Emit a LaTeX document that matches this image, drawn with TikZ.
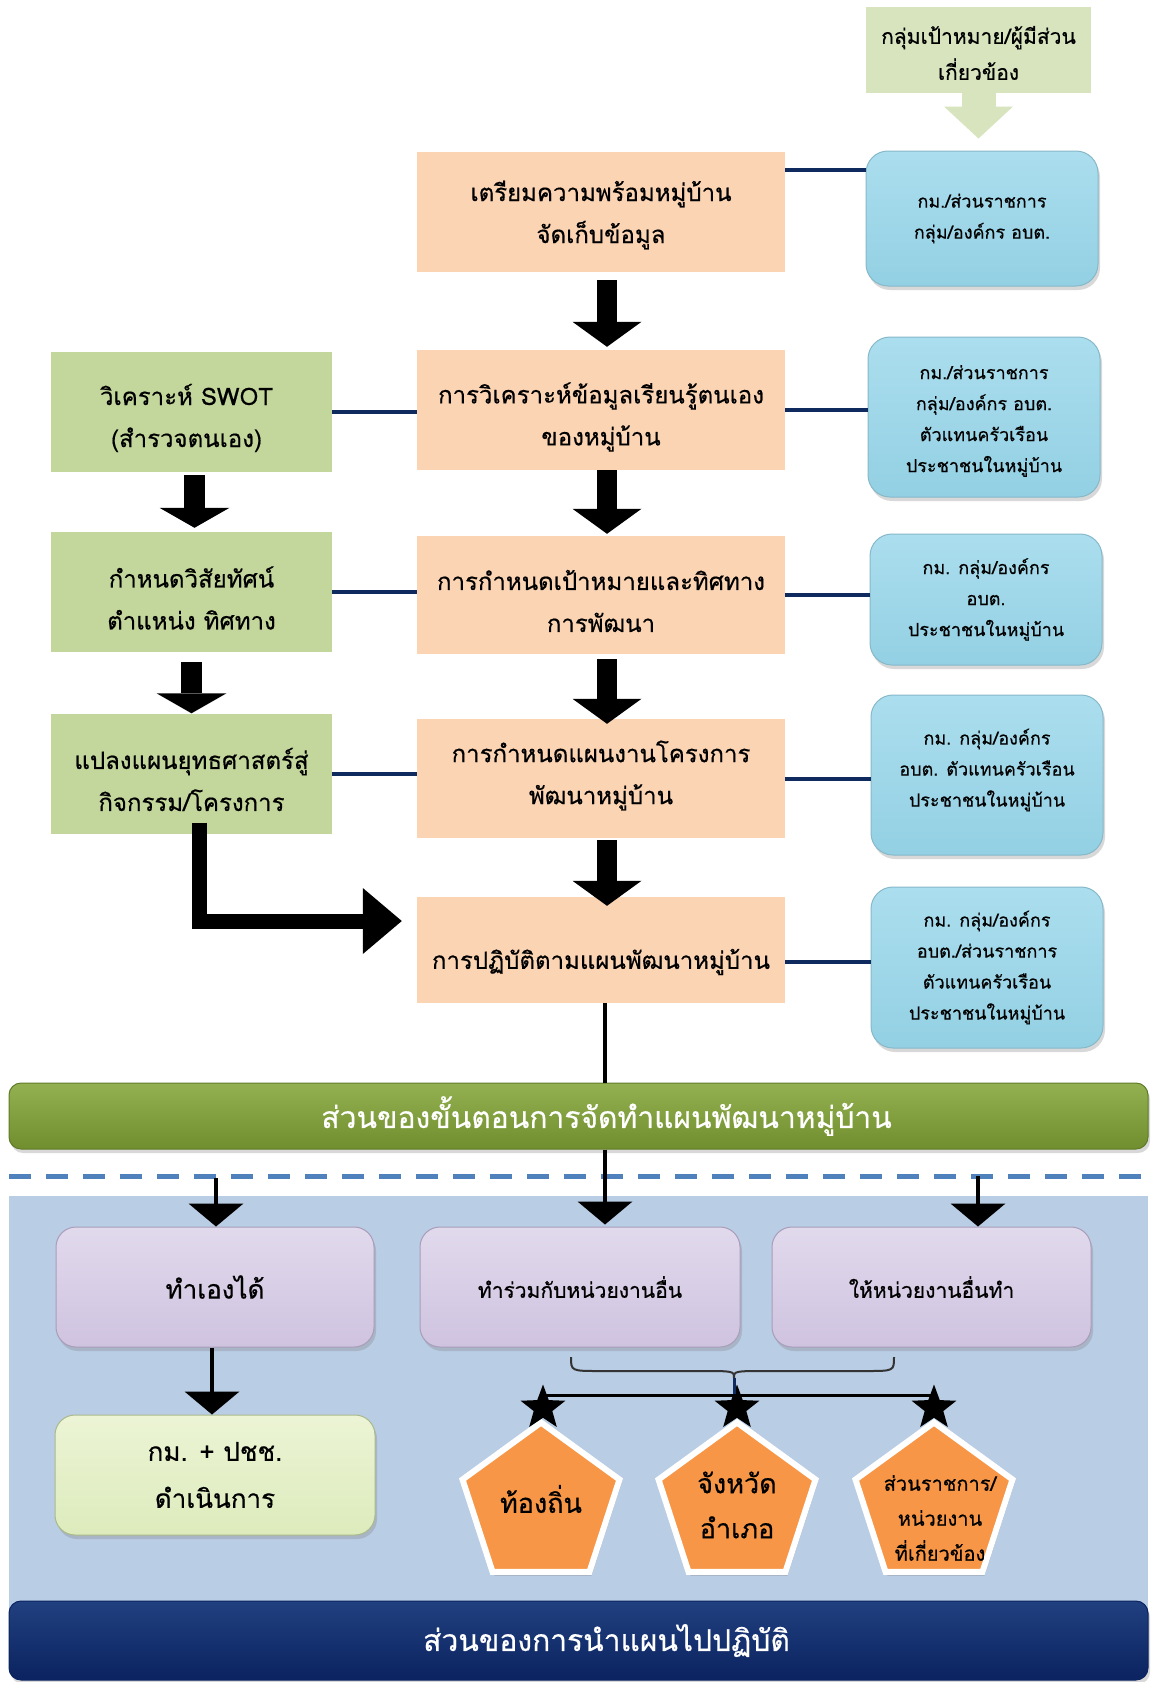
\documentclass[tikz,border=0pt]{standalone}
\usepackage{fontspec}
\setmainfont[Script=Thai, FakeBold=0.5]{Loma}
\usetikzlibrary{arrows.meta,shapes.geometric,shadows,calc}
\definecolor{orangeC}{HTML}{FBD4B4}
\definecolor{greenC}{HTML}{C3D69B}
\definecolor{topgreenC}{HTML}{D7E4BD}
\definecolor{blueTop}{HTML}{ABDEEE}
\definecolor{blueBot}{HTML}{93D0E3}
\definecolor{blueEdge}{HTML}{86B9C9}
\definecolor{navyC}{HTML}{0E2A5E}
\definecolor{bannerTop}{HTML}{93B150}
\definecolor{bannerBot}{HTML}{718E2E}
\definecolor{bannerEdge}{HTML}{5F7A28}
\definecolor{navyTop}{HTML}{21407F}
\definecolor{navyBot}{HTML}{0B2360}
\definecolor{bgblue}{HTML}{B9CDE5}
\definecolor{dashC}{HTML}{4F81BD}
\definecolor{purpTop}{HTML}{E1D9EC}
\definecolor{purpBot}{HTML}{CFC3E0}
\definecolor{purpEdge}{HTML}{A99DBA}
\definecolor{lgTop}{HTML}{ECF4D5}
\definecolor{lgBot}{HTML}{DDEBBC}
\definecolor{lgEdge}{HTML}{AAB98A}
\definecolor{pentC}{HTML}{F79646}
\tikzset{
  txt/.style={inner sep=0pt, align=center},
  otxt/.style={txt, font=\fontsize{24}{42}\selectfont},
  btxt/.style={txt, font=\fontsize{18}{31}\selectfont},
  obox/.style={fill=orangeC, minimum width=368pt, inner sep=0pt},
  gbox/.style={fill=greenC, minimum width=281pt, minimum height=120pt, inner sep=0pt},
  bbox/.style={rounded corners=22pt, top color=blueTop, bottom color=blueBot, draw=blueEdge,
    line width=1pt, minimum width=232pt, inner sep=0pt,
    drop shadow={shadow xshift=2pt, shadow yshift=-4pt, opacity=0.3}},
  tgbox/.style={fill=topgreenC, minimum width=225pt, minimum height=86pt, inner sep=0pt},
  pbox/.style={rounded corners=20pt, top color=purpTop, bottom color=purpBot, draw=purpEdge,
    line width=1pt, minimum width=318pt, minimum height=120pt, inner sep=0pt, align=center,
    drop shadow={shadow xshift=2pt, shadow yshift=-4pt, opacity=0.3}},
  lgbox/.style={rounded corners=20pt, top color=lgTop, bottom color=lgBot, draw=lgEdge,
    line width=1pt, minimum width=320pt, minimum height=120pt, inner sep=0pt,
    drop shadow={shadow xshift=2pt, shadow yshift=-4pt, opacity=0.3}},
  banner/.style={rounded corners=12pt, minimum width=1139pt, inner sep=0pt,
    drop shadow={shadow xshift=2pt, shadow yshift=-4pt, opacity=0.3}},
  bantxt/.style={txt, text=white, font=\fontsize{30}{34}\selectfont},
  pent/.style={regular polygon, regular polygon sides=5, minimum size=165pt, inner sep=0pt,
    fill=pentC, draw=white, line width=6pt,
    drop shadow={shadow xshift=2pt, shadow yshift=-4pt, opacity=0.3}},
  starnode/.style={star, star points=5, star point ratio=2.4, minimum size=47pt,
    inner sep=0pt, fill=black},
  navyline/.style={draw=navyC, line width=4pt},
  fatarrow/.style={draw=black, line width=20pt,
    -{Triangle[width=69pt,length=25pt,line width=0pt]}},
  greenarrow/.style={draw=black, line width=21pt,
    -{Triangle[width=70pt,length=20pt,line width=0pt]}},
  thinarrow/.style={draw=black, line width=4pt,
    -{Triangle[width=55pt,length=23pt,line width=0pt]}},
}
\begin{document}
\begin{tikzpicture}[x=1pt,y=-1pt]
\useasboundingbox (0,0) rectangle (1151,1682);
\fill[white] (0,0) rectangle (1151,1682);
% lower background
\fill[bgblue] (9,1196) rectangle (1148,1640);
\coordinate (dl) at (9,1176);
\coordinate (dr) at (1148,1176);
\draw[dashC, line width=5pt, dash pattern=on 22pt off 15pt] (dl) -- (dr);

% top target box
\node[tgbox] (tg) at (978.5,50) {};
\node[txt, font=\fontsize{21}{36}\selectfont] (tgt) at ([yshift=-3pt]tg.center) {กลุ่มเป้าหมาย/ผู้มีส่วน\\เกี่ยวข้อง};

% orange column
\node[obox, minimum height=120pt] (o1) at (601,212) {};
\node[obox, minimum height=120pt] (o2) at (601,410) {};
\node[obox, minimum height=118pt] (o3) at (601,595) {};
\node[obox, minimum height=119pt] (o4) at (601,778.5) {};
\node[obox, minimum height=106pt] (o5) at (601,950) {};
\node[otxt] (o1t) at ([yshift=-3pt]o1.center) {เตรียมความพร้อมหมู่บ้าน\\จัดเก็บข้อมูล};
\node[otxt] (o2t) at ([yshift=-7pt]o2.center) {การวิเคราะห์ข้อมูลเรียนรู้ตนเอง\\ของหมู่บ้าน};
\node[otxt] (o3t) at ([yshift=-6pt]o3.center) {การกำหนดเป้าหมายและทิศทาง\\การพัฒนา};
\node[otxt] (o4t) at ([yshift=3pt]o4.center) {การกำหนดแผนงานโครงการ\\พัฒนาหมู่บ้าน};
\node[otxt] (o5t) at ([yshift=-12pt]o5.center) {การปฏิบัติตามแผนพัฒนาหมู่บ้าน};

% green column
\node[gbox] (g1) at (191.5,412) {};
\node[gbox] (g2) at (191.5,592) {};
\node[gbox] (g3) at (191.5,773.5) {};
\node[otxt] (g1t) at ([xshift=-5pt,yshift=-6pt]g1.center) {วิเคราะห์ SWOT\\(สำรวจตนเอง)};
\node[otxt] (g2t) at ([yshift=-6pt]g2.center) {กำหนดวิสัยทัศน์\\ตำแหน่ง ทิศทาง};
\node[otxt] (g3t) at ([yshift=-6pt]g3.center) {แปลงแผนยุทธศาสตร์สู่\\กิจกรรม/โครงการ};

% blue column
\node[bbox, minimum height=135pt] (b1) at (982,218.5) {};
\node[bbox, minimum height=160pt] (b2) at (984,417) {};
\node[bbox, minimum height=131pt] (b3) at (986,599.5) {};
\node[bbox, minimum height=160pt] (b4) at (987,775) {};
\node[bbox, minimum height=161pt] (b5) at (987,967.5) {};
\node[btxt] (b1t) at (b1.center) {กม./ส่วนราชการ\\กลุ่ม/องค์กร อบต.};
\node[btxt] (b2t) at ([yshift=-4pt]b2.center) {กม./ส่วนราชการ\\กลุ่ม/องค์กร อบต.\\ตัวแทนครัวเรือน\\ประชาชนในหมู่บ้าน};
\node[btxt] (b3t) at (b3.center) {กม. กลุ่ม/องค์กร\\อบต.\\ประชาชนในหมู่บ้าน};
\node[btxt] (b4t) at ([yshift=5pt]b4.center) {กม. กลุ่ม/องค์กร\\อบต. ตัวแทนครัวเรือน\\ประชาชนในหมู่บ้าน};
\node[btxt] (b5t) at (b5.center) {กม. กลุ่ม/องค์กร\\อบต./ส่วนราชการ\\ตัวแทนครัวเรือน\\ประชาชนในหมู่บ้าน};

% connectors left
\draw[navyline] (g1.east) -- (g1.east -| o2.west);
\draw[navyline] (g2.east) -- (g2.east -| o3.west);
\draw[navyline] (g3.east) -- (g3.east -| o4.west);
% connectors right
\draw[navyline] ([yshift=42pt]o1.east) -- ([yshift=42pt]o1.east -| b1.west);
\draw[navyline] (o2.east) -- (o2.east -| b2.west);
\draw[navyline] (o3.east) -- (o3.east -| b3.west);
\draw[navyline] (o4.east) -- (o4.east -| b4.west);
\draw[navyline] ([yshift=-12pt]o5.east) -- ([yshift=-12pt]o5.east -| b5.west);

% top green arrow
\draw[draw=topgreenC, line width=34pt, -{Triangle[width=69pt,length=32pt,line width=0pt]}]
  (tg.south) -- ([yshift=12pt]tg.south |- b1.north);

% fat arrows
\draw[fatarrow] ([xshift=6pt,yshift=-8pt]o1.south) -- ([xshift=6pt,yshift=3pt]o1.south |- o2.north);
\draw[fatarrow] ([xshift=6pt]o2.south) -- ([xshift=6pt,yshift=2pt]o2.south |- o3.north);
\draw[fatarrow] ([xshift=6pt,yshift=-5pt]o3.south) -- ([xshift=6pt,yshift=-5pt]o3.south |- o4.north);
\draw[fatarrow] ([xshift=6pt,yshift=-2pt]o4.south) -- ([xshift=6pt,yshift=-9pt]o4.south |- o5.north);

\draw[greenarrow] ([xshift=3pt,yshift=-3pt]g1.south) -- ([xshift=3pt,yshift=4pt]g1.south |- g2.north);
\draw[greenarrow] ([yshift=-10pt]g2.south) -- (g2.south |- g3.north);

% L arrow
\draw[draw=black, line width=15pt, line join=miter,
  -{Triangle[width=66pt,length=39pt,line width=0pt]}]
  ([xshift=8pt,yshift=11pt]g3.south) |- ([xshift=-15pt,yshift=29pt]o5.west);

% banners
\node[banner, top color=bannerTop, bottom color=bannerBot, draw=bannerEdge, line width=1pt,
  minimum height=66pt] (gb) at (578.5,1116) {};
\node[bantxt] (gbt) at ([xshift=28pt]gb.center) {ส่วนของขั้นตอนการจัดทำแผนพัฒนาหมู่บ้าน};
\draw[draw=black, line width=4pt] ([xshift=4pt]o5.south) -- ([xshift=4pt]o5.south |- gb.north);

\node[banner, top color=navyTop, bottom color=navyBot, draw=navyBot, line width=1pt,
  minimum height=79pt] (nb) at (578.5,1640.5) {};
\node[bantxt] (nbt) at ([xshift=28pt]nb.center) {ส่วนของการนำแผนไปปฏิบัติ};

% purple boxes
\node[pbox, font=\fontsize{26}{30}\selectfont] (p1) at (215,1287) {ทำเองได้};
\node[pbox, minimum width=320pt, font=\fontsize{21}{24}\selectfont] (p2) at (580,1287) {ทำร่วมกับหน่วยงานอื่น};
\node[pbox, minimum width=319pt, font=\fontsize{21}{24}\selectfont] (p3) at (931.5,1287) {ให้หน่วยงานอื่นทำ};

\coordinate (lt) at (216,1178);
\coordinate (rt) at (978,1176);
\draw[thinarrow] (lt) -- (lt |- p1.north);
\draw[thinarrow] ([xshift=26.5pt]gb.south) -- ([xshift=26.5pt,yshift=2pt]gb.south |- p2.north);
\draw[thinarrow] (rt) -- (rt |- p3.north);

\node[lgbox] (lg) at (215,1475) {};
\node[txt, font=\fontsize{26}{47}\selectfont] (lgt) at (lg.center) {กม. + ปชช.\\ดำเนินการ};
\draw[thinarrow] ([xshift=-3pt]p1.south) -- ([xshift=-3pt]p1.south |- lg.north);

% brace
\coordinate (bl) at (571,1357);
\coordinate (bc) at (734,1378);
\coordinate (br) at (894,1357);
\draw[draw=black!80, line width=2pt] (bl) .. controls (571,1371) .. (600,1371) -- (700,1371)
  .. controls (734,1371) .. (bc) .. controls (734,1371) .. (768,1371) -- (866,1371)
  .. controls (894,1371) .. (br);

% pentagons
\node[pent] (k1) at (541,1505) {};
\node[pent] (k2) at (737,1505) {};
\node[pent] (k3) at (934,1505) {};
\node[txt, font=\fontsize{27}{45}\selectfont] (k1t) at (541,1499) {ท้องถิ่น};
\node[txt, font=\fontsize{27}{45}\selectfont] (k2t) at (737,1505) {จังหวัด\\อำเภอ};
\node[txt, font=\fontsize{20}{35}\selectfont] (k3t) at (940,1518) {ส่วนราชการ/\\หน่วยงาน\\ที่เกี่ยวข้อง};

% stars and bar
\node[starnode] (s1) at (543,1408) {};
\node[starnode] (s2) at (737,1408) {};
\node[starnode] (s3) at (934,1408) {};
\draw[draw=black, line width=3pt] ([yshift=13pt]s1.center) -- ([yshift=13pt]s3.center);
\draw[draw=navyC, line width=3pt] (bc) -- (bc |- 0,1394);
\end{tikzpicture}
\end{document}
